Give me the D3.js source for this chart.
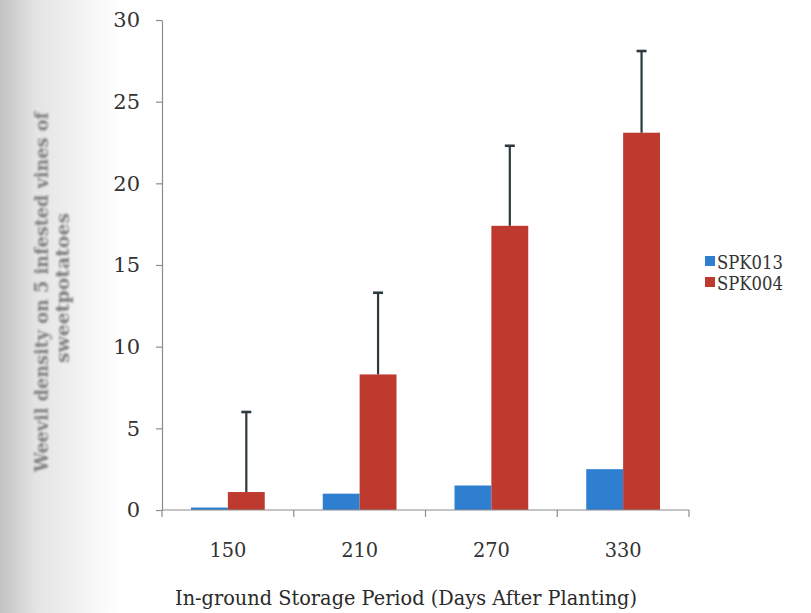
<!DOCTYPE html>
<html>
<head>
<meta charset="utf-8">
<script src="https://cdn.jsdelivr.net/npm/d3@7"></script>
<style>
  html, body { margin: 0; padding: 0; background: #fff; }
  svg { display: block; }
</style>
</head>
<body>
<svg id="chart" width="811" height="613"></svg>
<script>
// Storage periods (days after planting)
const categories = ["150", "210", "270", "330"];
// Cultivars shown in the legend
const seriesNames = ["SPK013", "SPK004"];
// Mean weevil density per cultivar
const spk013 = [0.15, 1.0, 1.5, 2.5];
const spk004 = [1.1, 8.3, 17.4, 23.1];
// Upper error (standard deviation) drawn for SPK004
const spk004Err = [4.9, 5.0, 4.9, 5.0];
// Value axis ticks
const yTicks = [0, 5, 10, 15, 20, 25, 30];

const colors = { SPK013: "#2f7fd1", SPK004: "#bf3a2e" };
const FONT = "'DejaVu Serif', 'Liberation Serif', 'Times New Roman', Times, serif";

const svg = d3.select("#chart").style("font-family", FONT);
const W = 811, H = 613;
const margin = { left: 162, right: 122, top: 20, bottom: 103 };

// faint grey shading along the left edge of the page
const defs = svg.append("defs");
const grad = defs.append("linearGradient").attr("id", "edge").attr("x1", 0).attr("x2", 1).attr("y1", 0).attr("y2", 0);
grad.append("stop").attr("offset", 0).attr("stop-color", "#c2c2c2");
grad.append("stop").attr("offset", 0.3).attr("stop-color", "#e4e4e4");
grad.append("stop").attr("offset", 1).attr("stop-color", "#ffffff");
svg.append("rect").attr("x", 0).attr("y", 0).attr("width", 120).attr("height", H).attr("fill", "url(#edge)");

const soft = defs.append("filter").attr("id", "soft").attr("x", "-20%").attr("y", "-20%").attr("width", "140%").attr("height", "140%");
soft.append("feGaussianBlur").attr("stdDeviation", 0.9);

const x0 = d3.scaleBand().domain(categories).range([margin.left, W - margin.right]).paddingInner(0).paddingOuter(0);
const groupPad = 29;
const x1 = d3.scaleBand().domain(seriesNames).range([groupPad, x0.bandwidth() - groupPad]).padding(0);
const y = d3.scaleLinear().domain([0, 30]).range([H - margin.bottom, margin.top]);

const rows = categories.map((c, i) => ({
  cat: c,
  values: [
    { key: "SPK013", v: spk013[i] },
    { key: "SPK004", v: spk004[i], err: spk004Err[i] }
  ]
}));

// bars
const g = svg.append("g");
const groups = g.selectAll("g.grp").data(rows).join("g")
  .attr("class", "grp")
  .attr("transform", d => `translate(${x0(d.cat)},0)`);
groups.selectAll("rect").data(d => d.values).join("rect")
  .attr("x", d => x1(d.key))
  .attr("width", x1.bandwidth())
  .attr("y", d => y(d.v))
  .attr("height", d => y(0) - y(d.v))
  .attr("fill", d => colors[d.key]);

// upper error bars on SPK004
const eb = groups.selectAll("g.err").data(d => d.values.filter(v => v.err != null)).join("g").attr("class", "err");
eb.append("line")
  .attr("x1", d => x1(d.key) + x1.bandwidth() / 2)
  .attr("x2", d => x1(d.key) + x1.bandwidth() / 2)
  .attr("y1", d => y(d.v))
  .attr("y2", d => y(d.v + d.err))
  .attr("stroke", "#2c393d").attr("stroke-width", 2.2);
eb.append("line")
  .attr("x1", d => x1(d.key) + x1.bandwidth() / 2 - 5)
  .attr("x2", d => x1(d.key) + x1.bandwidth() / 2 + 5)
  .attr("y1", d => y(d.v + d.err))
  .attr("y2", d => y(d.v + d.err))
  .attr("stroke", "#2c393d").attr("stroke-width", 2.6);

// y axis
const yAxis = svg.append("g")
  .attr("transform", `translate(${margin.left},0)`)
  .call(d3.axisLeft(y).tickValues(yTicks).tickSize(6).tickPadding(16).tickSizeOuter(0));
yAxis.attr("font-size", 21).style("font-family", FONT);
yAxis.select(".domain").attr("stroke", "#8c8c8c").attr("stroke-width", 1.2);
yAxis.selectAll(".tick line").attr("stroke", "#8c8c8c").attr("stroke-width", 1.2);
yAxis.selectAll(".tick text").attr("fill", "#333");

// x axis: baseline with ticks at the category boundaries
const xAxisG = svg.append("g").attr("transform", `translate(0,${y(0)})`);
xAxisG.append("line")
  .attr("x1", x0.range()[0]).attr("x2", x0.range()[1])
  .attr("stroke", "#8c8c8c").attr("stroke-width", 1.2);
const bounds = categories.map(c => x0(c)).concat([x0.range()[1]]);
xAxisG.selectAll("line.tk").data(bounds).join("line").attr("class", "tk")
  .attr("x1", d => d).attr("x2", d => d).attr("y1", 0).attr("y2", 7)
  .attr("stroke", "#8c8c8c").attr("stroke-width", 1.2);
xAxisG.selectAll("text.cat").data(categories).join("text").attr("class", "cat")
  .attr("x", d => x0(d) + x0.bandwidth() / 2)
  .attr("y", 47)
  .attr("text-anchor", "middle")
  .attr("font-size", 21).attr("fill", "#333")
  .attr("textLength", 37).attr("lengthAdjust", "spacingAndGlyphs")
  .text(d => d);

// axis titles
svg.append("text")
  .attr("x", 406).attr("y", 605)
  .attr("text-anchor", "middle")
  .attr("font-size", 21).attr("fill", "#2a2a2a")
  .attr("textLength", 462).attr("lengthAdjust", "spacingAndGlyphs")
  .text("In-ground Storage Period (Days After Planting)");

const yTitle = svg.append("g").attr("filter", "url(#soft)").attr("fill", "#808080");
yTitle.append("text")
  .attr("transform", "translate(48,292) rotate(-90)")
  .attr("text-anchor", "middle").attr("font-size", 19).attr("font-weight", "bold")
  .attr("textLength", 360).attr("lengthAdjust", "spacingAndGlyphs")
  .text("Weevil density on 5 infested vines of");
yTitle.append("text")
  .attr("transform", "translate(69,288) rotate(-90)")
  .attr("text-anchor", "middle").attr("font-size", 19).attr("font-weight", "bold")
  .attr("textLength", 150).attr("lengthAdjust", "spacingAndGlyphs")
  .text("sweetpotatoes");

// legend
const leg = svg.append("g").attr("transform", "translate(705,262)");
const li = leg.selectAll("g").data(seriesNames).join("g")
  .attr("transform", (d, i) => `translate(0,${i * 21})`);
li.append("rect").attr("x", 0).attr("y", -6).attr("width", 10).attr("height", 10)
  .attr("fill", d => colors[d]);
li.append("text").attr("x", 12).attr("y", 7)
  .attr("font-size", 19).attr("fill", "#333")
  .attr("textLength", 66).attr("lengthAdjust", "spacingAndGlyphs")
  .text(d => d);
</script>
</body>
</html>
